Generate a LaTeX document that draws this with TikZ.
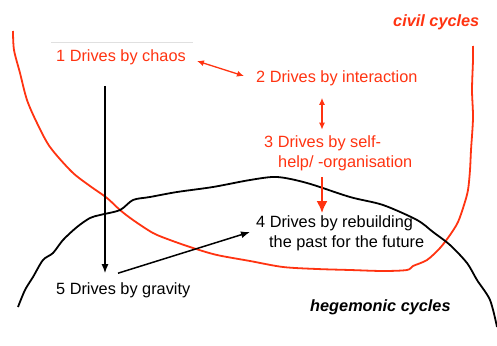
\documentclass[tikz,border=0pt]{standalone}
\usepackage{fontspec}
\setmainfont{Liberation Sans}
\usepackage{tikz}
\usetikzlibrary{arrows.meta}
\usetikzlibrary{calc}
\definecolor{civred}{RGB}{255,51,17}

\begin{document}
\begin{tikzpicture}[>/.tip={Latex[length=9pt,width=7pt]},x=1pt,y=-1pt,
	lbl/.style={font=\fontsize{16.3}{20}\selectfont,inner sep=0pt,anchor=west,align=left},
	ttl/.style={font=\fontsize{16.3}{20}\selectfont\bfseries\itshape,inner sep=0pt,anchor=west}]
	\useasboundingbox (0,0) rectangle (497,345);
	% the two cycles
	\draw[civred,line width=1.8pt,line join=round] plot[smooth,tension=0.5] coordinates {(13,31) (14,50) (20,73) (27,100) (37,123) (50,147) (72,172) (90,186) (107,198) (120,210) (133,220) (153,233) (170,240) (193,248) (217,255) (250,261) (283,267) (317,269) (350,270) (383,271) (407,270) (413,266) (427,260) (440,248) (450,235) (458,222) (464,205) (468,190) (470,170) (471,150) (473,118) (472,90) (473,60) (473,46)};
	\draw[black,line width=1.8pt,line join=round] plot[smooth,tension=0.5] coordinates {(18,307) (25,290) (33,277) (43,260) (53,253) (63,240) (77,227) (90,218) (100,215) (120,210) (133,200) (150,197) (177,192) (213,187) (250,180) (277,177) (307,183) (350,197) (383,205) (417,220) (433,232) (450,245) (467,263) (477,280) (490,300) (497,327)};
	\draw[black!12,line width=0.8pt] (51,42) -- (193,42);
	\draw (393,22) node (civil) [ttl,civred] {civil cycles};
	\draw (310,307) node (hegem) [ttl] {hegemonic cycles};
	\draw (56,57) node (chaos) [lbl,civred] {1 Drives by chaos};
	\draw (256,78) node (inter) [lbl,civred] {2 Drives by interaction};
	\draw (264,153.5) node (self) [lbl,civred] {3 Drives by self-\\\hspace*{14pt}help/ -organisation};
	\draw (256,233) node (rebuild) [lbl] {4 Drives by rebuilding\\\hspace*{13pt}the past for the future};
	\draw (56,290) node (gravity) [lbl] {5 Drives by gravity};
	\draw[civred,line width=1.3pt,<->,>={Latex[length=7pt,width=6pt]}] ($(chaos.east)+(11,4)$) -- ($(inter.west)+(-12,-2)$);
	\draw[civred,line width=1.3pt,<->,>={Latex[length=7pt,width=6pt]}] ($(inter.south west)+(66,12)$) -- ($(self.north west)+(58,-6)$);
	\draw[civred,line width=2.5pt,->,>={Latex[length=12pt,width=11pt]}] ($(self.south west)+(58,6)$) -- ($(rebuild.north west)+(66,-2)$);
	\draw[line width=1.5pt,->] ($(chaos.south west)+(49,21)$) -- ($(gravity.north west)+(49,-9)$);
	\draw[line width=1.5pt,->] ($(gravity.north west)+(62,-9)$) -- ($(rebuild.west)+(-6,-1)$);
\end{tikzpicture}
\end{document}
